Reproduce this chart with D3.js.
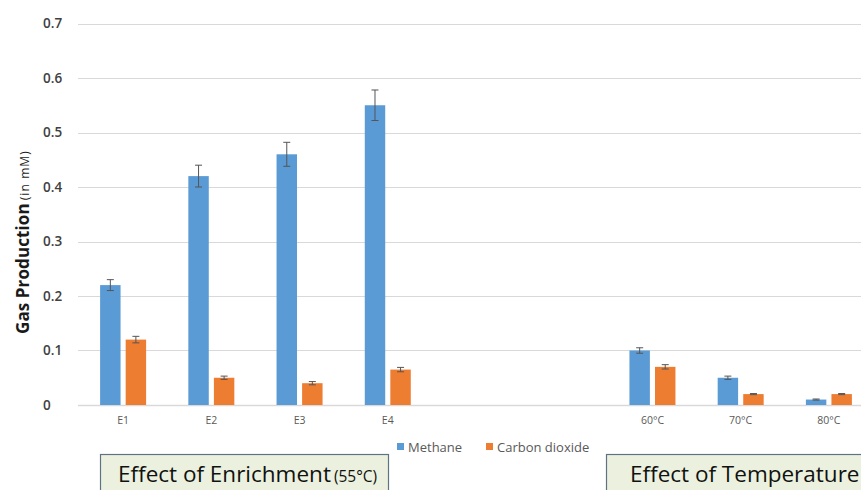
<!DOCTYPE html>
<meta charset="utf-8">
<style>
body { margin: 0; background: #fff; }
svg { display: block; font-family: "Open Sans", sans-serif; }
</style>
<body>
<script src="https://cdnjs.cloudflare.com/ajax/libs/d3/7.8.5/d3.min.js"></script>
<script>

var categories = ["E1", "E2", "E3", "E4", "", "", "60°C", "70°C", "80°C"];
var series = ["Methane", "Carbon dioxide"];
var methane = [0.22, 0.42, 0.46, 0.55, null, null, 0.10, 0.05, 0.01];
var methaneErr = [0.010, 0.020, 0.022, 0.028, null, null, 0.005, 0.003, 0.001];
var co2 = [0.12, 0.05, 0.04, 0.065, null, null, 0.07, 0.02, 0.02];
var co2Err = [0.006, 0.003, 0.003, 0.004, null, null, 0.004, 0.001, 0.001];
var yTicks = [0, 0.1, 0.2, 0.3, 0.4, 0.5, 0.6, 0.7];
var colors = ["#5b9bd5", "#ed7d31"];

var w = 861, h = 490;

var svg = d3.select("body").append("svg")
	.attr("width", w)
	.attr("height", h);

var x = d3.scaleBand()
	.domain(d3.range(categories.length))
	.range([79, 873])
	.padding(0);

var x1 = d3.scaleBand()
	.domain(series)
	.range([x.bandwidth() / 2 - 23, x.bandwidth() / 2 + 23])
	.paddingInner(0.2);

var y = d3.scaleLinear()
	.domain([0, 0.7])
	.range([405, 23.5]);

// gridlines
svg.append("g")
	.selectAll("line")
	.data(yTicks)
	.enter().append("line")
	.attr("x1", 78)
	.attr("x2", w)
	.attr("y1", d => Math.round(y(d)) + 0.5)
	.attr("y2", d => Math.round(y(d)) + 0.5)
	.attr("stroke", "#d9d9d9")
	.attr("stroke-width", d => d === 0 ? 1.5 : 1);

// y tick labels
svg.append("g")
	.selectAll("text")
	.data(yTicks)
	.enter().append("text")
	.attr("x", 43)
	.attr("y", d => y(d))
	.attr("dy", "0.35em")
	.attr("font-size", 13.5)
	.attr("font-weight", 600)
	.attr("fill", "#404040")
	.text(d => d === 0 ? "0" : d3.format(".1f")(d));

// x axis labels
var xAxis = d3.axisBottom(x)
	.tickSize(0)
	.tickPadding(12)
	.tickFormat(i => categories[i]);

var gx = svg.append("g")
	.attr("transform", "translate(0,405)")
	.call(xAxis);
gx.select(".domain").remove();
gx.selectAll("text")
	.attr("font-family", "Open Sans, sans-serif")
	.attr("font-size", 10.5)
	.attr("fill", "#595959");

var rows = categories.map(function(c, i) {
	return [
		{ cat: i, s: series[0], v: methane[i], e: methaneErr[i], c: colors[0] },
		{ cat: i, s: series[1], v: co2[i], e: co2Err[i], c: colors[1] }
	].filter(d => d.v != null);
});

var groups = svg.append("g")
	.selectAll("g")
	.data(rows)
	.enter().append("g")
	.attr("transform", (d, i) => "translate(" + x(i) + ",0)");

groups.selectAll("rect")
	.data(d => d)
	.enter().append("rect")
	.attr("x", d => x1(d.s))
	.attr("width", x1.bandwidth())
	.attr("y", d => y(d.v))
	.attr("height", d => y(0) - y(d.v))
	.attr("fill", d => d.c);

// error bars
var eb = groups.selectAll("g.err")
	.data(d => d)
	.enter().append("g")
	.attr("class", "err")
	.attr("stroke", "#555")
	.attr("stroke-width", 1);

eb.append("line")
	.attr("x1", d => x1(d.s) + x1.bandwidth() / 2)
	.attr("x2", d => x1(d.s) + x1.bandwidth() / 2)
	.attr("y1", d => y(d.v + d.e))
	.attr("y2", d => y(d.v - d.e));
eb.append("line")
	.attr("x1", d => x1(d.s) + x1.bandwidth() / 2 - 3.5)
	.attr("x2", d => x1(d.s) + x1.bandwidth() / 2 + 3.5)
	.attr("y1", d => y(d.v + d.e))
	.attr("y2", d => y(d.v + d.e));
eb.append("line")
	.attr("x1", d => x1(d.s) + x1.bandwidth() / 2 - 3.5)
	.attr("x2", d => x1(d.s) + x1.bandwidth() / 2 + 3.5)
	.attr("y1", d => y(d.v - d.e))
	.attr("y2", d => y(d.v - d.e));

// y axis title
var yt = svg.append("text")
	.attr("transform", "translate(29,334) rotate(-90)")
	.attr("fill", "#1a1a1a");
yt.append("tspan")
	.attr("font-size", 17)
	.attr("font-weight", 700)
	.attr("letter-spacing", 0.1)
	.text("Gas Production");
yt.append("tspan")
	.attr("font-size", 12)
	.attr("letter-spacing", 1.1)
	.attr("dx", 3)
	.text("(in mM)");

// legend
var legend = svg.append("g")
	.selectAll("g")
	.data(series)
	.enter().append("g")
	.attr("transform", (d, i) => "translate(" + [397, 486][i] + ",443)");
legend.append("rect")
	.attr("width", 7)
	.attr("height", 7)
	.attr("fill", (d, i) => colors[i]);
legend.append("text")
	.attr("x", 11)
	.attr("y", 8.5)
	.attr("font-size", 13)
	.attr("fill", "#595959")
	.text(d => d);

// annotation boxes
var boxes = [
	{ x: 100, w: 288, pad: 18, main: "Effect of Enrichment", sub: "(55°C)" },
	{ x: 606, w: 300, pad: 24, main: "Effect of Temperature", sub: "" }
];
var bx = svg.append("g")
	.selectAll("g")
	.data(boxes)
	.enter().append("g");
bx.append("rect")
	.attr("x", d => d.x + 0.5)
	.attr("y", 454.5)
	.attr("width", d => d.w)
	.attr("height", 60)
	.attr("fill", "#ebf1de")
	.attr("stroke", "#5f7385")
	.attr("stroke-width", 1.2);
var bt = bx.append("text")
	.attr("x", d => d.x + d.pad)
	.attr("y", 482)
	.attr("fill", "#111");
bt.append("tspan")
	.attr("font-size", 22.5)
	.text(d => d.main);
bt.append("tspan")
	.attr("font-size", 15.5)
	.attr("dx", 3)
	.text(d => d.sub);

</script>
</body>
